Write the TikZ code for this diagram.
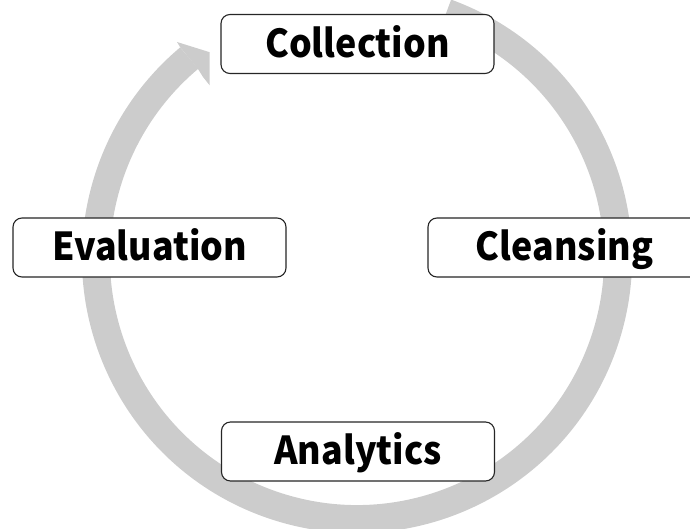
\documentclass[tikz,border=0pt]{standalone}
\usepackage{fontspec}
\usetikzlibrary{calc}
\setmainfont{Noto Sans CJK JP}[FakeStretch=0.93]
\definecolor{bandgray}{HTML}{CCCCCC}
\begin{document}
\begin{tikzpicture}[x=1pt,y=1pt,
  stage/.style={draw=black!85, line width=1.1pt, fill=white, rounded corners=9pt,
    minimum width=273pt, minimum height=59pt, inner sep=0pt,
    font=\fontsize{38.5}{44}\selectfont\bfseries, text height=28pt, text depth=1.5pt},
  band/.style={draw=bandgray, line width=28pt}]
\useasboundingbox (0,0) rectangle (690,-529);
\coordinate (c) at (357,-258);
% circular band
\draw[band] ($(c)+(70:261)$) arc[start angle=70, end angle=-230, radius=261];
% arrow head (partly hidden at its tip)
\begin{scope}
\clip (0,0) rectangle (209.5,-529);
\fill[bandgray] (180,-47) -- (177,-42) -- (225,-57) -- (215,-92) -- (203,-77) -- (198,-69) -- cycle;
\end{scope}
\node[stage] (collection) at (357.5,-44) {Collection};
\node[stage] (evaluation) at (149.5,-247.5) {Evaluation};
\node[stage] (cleansing) at (564.5,-247.5) {Cleansing};
\node[stage] (analytics) at (358,-451.5) {Analytics};
\end{tikzpicture}
\end{document}
